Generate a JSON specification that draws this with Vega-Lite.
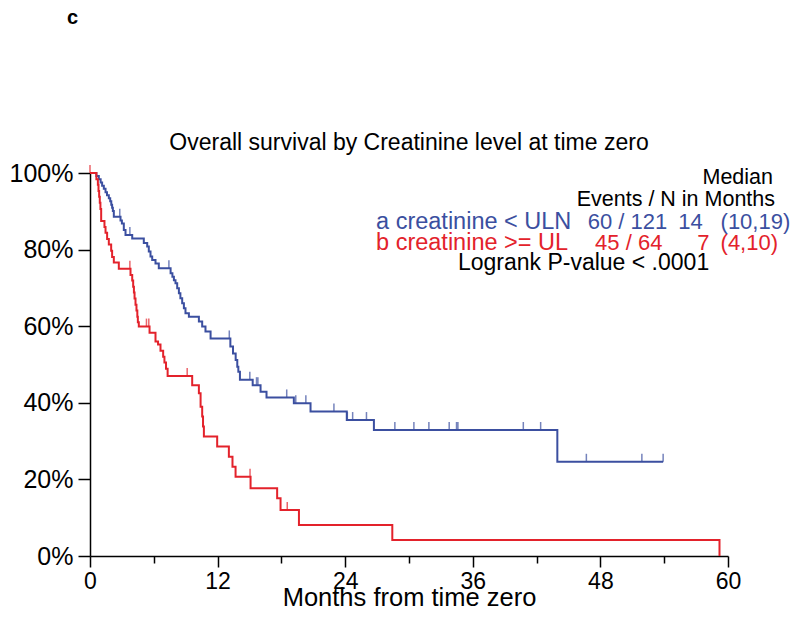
{
  "$schema": "https://vega.github.io/schema/vega-lite/v6.json",
  "width": 638,
  "height": 383,
  "autosize": {"type": "none"},
  "padding": {"left": 90, "top": 173, "right": 72, "bottom": 77},
  "background": "white",
  "config": {"font": "Liberation Sans", "view": {"stroke": null}},
  "title": {"text": "c", "anchor": "start", "frame": "group", "fontWeight": "bold", "fontSize": 20, "dx": -23, "offset": 104, "color": "black"},
  "datasets": {
    "steps": [
      {"group": "a", "t": 0, "s": 1.0}, {"group": "a", "t": 0.6, "s": 0.992}, {"group": "a", "t": 0.83, "s": 0.984},
      {"group": "a", "t": 1.0, "s": 0.975}, {"group": "a", "t": 1.14, "s": 0.967}, {"group": "a", "t": 1.3, "s": 0.959},
      {"group": "a", "t": 1.46, "s": 0.95}, {"group": "a", "t": 1.6, "s": 0.942}, {"group": "a", "t": 1.77, "s": 0.934},
      {"group": "a", "t": 1.9, "s": 0.926}, {"group": "a", "t": 2.0, "s": 0.917}, {"group": "a", "t": 2.08, "s": 0.909},
      {"group": "a", "t": 2.15, "s": 0.901}, {"group": "a", "t": 2.24, "s": 0.886}, {"group": "a", "t": 2.87, "s": 0.876},
      {"group": "a", "t": 3.0, "s": 0.868}, {"group": "a", "t": 3.18, "s": 0.851}, {"group": "a", "t": 3.34, "s": 0.838},
      {"group": "a", "t": 3.97, "s": 0.829}, {"group": "a", "t": 5.06, "s": 0.817}, {"group": "a", "t": 5.38, "s": 0.808},
      {"group": "a", "t": 5.53, "s": 0.795}, {"group": "a", "t": 5.69, "s": 0.782}, {"group": "a", "t": 5.85, "s": 0.773},
      {"group": "a", "t": 6.16, "s": 0.764}, {"group": "a", "t": 6.47, "s": 0.751}, {"group": "a", "t": 7.58, "s": 0.738},
      {"group": "a", "t": 7.75, "s": 0.729}, {"group": "a", "t": 7.89, "s": 0.72}, {"group": "a", "t": 8.04, "s": 0.712},
      {"group": "a", "t": 8.2, "s": 0.699}, {"group": "a", "t": 8.36, "s": 0.686}, {"group": "a", "t": 8.5, "s": 0.673},
      {"group": "a", "t": 8.67, "s": 0.66}, {"group": "a", "t": 8.83, "s": 0.647}, {"group": "a", "t": 8.98, "s": 0.634},
      {"group": "a", "t": 9.3, "s": 0.625}, {"group": "a", "t": 10.24, "s": 0.612}, {"group": "a", "t": 10.55, "s": 0.599},
      {"group": "a", "t": 10.86, "s": 0.586}, {"group": "a", "t": 11.34, "s": 0.568}, {"group": "a", "t": 13.2, "s": 0.547},
      {"group": "a", "t": 13.45, "s": 0.529}, {"group": "a", "t": 13.7, "s": 0.512}, {"group": "a", "t": 13.85, "s": 0.494},
      {"group": "a", "t": 13.95, "s": 0.481}, {"group": "a", "t": 14.1, "s": 0.46}, {"group": "a", "t": 15.3, "s": 0.446},
      {"group": "a", "t": 16.04, "s": 0.429}, {"group": "a", "t": 16.6, "s": 0.414}, {"group": "a", "t": 19.17, "s": 0.399},
      {"group": "a", "t": 20.74, "s": 0.377}, {"group": "a", "t": 24.15, "s": 0.355}, {"group": "a", "t": 26.7, "s": 0.329},
      {"group": "a", "t": 43.95, "s": 0.246}, {"group": "a", "t": 53.9, "s": 0.246},
      {"group": "b", "t": 0, "s": 1.0}, {"group": "b", "t": 0.6, "s": 0.984}, {"group": "b", "t": 0.74, "s": 0.969},
      {"group": "b", "t": 0.8, "s": 0.953}, {"group": "b", "t": 0.86, "s": 0.938}, {"group": "b", "t": 0.92, "s": 0.922},
      {"group": "b", "t": 0.98, "s": 0.906}, {"group": "b", "t": 1.05, "s": 0.875}, {"group": "b", "t": 1.36, "s": 0.859},
      {"group": "b", "t": 1.46, "s": 0.844}, {"group": "b", "t": 1.61, "s": 0.828}, {"group": "b", "t": 1.77, "s": 0.813},
      {"group": "b", "t": 1.99, "s": 0.797}, {"group": "b", "t": 2.08, "s": 0.781}, {"group": "b", "t": 2.24, "s": 0.766},
      {"group": "b", "t": 2.71, "s": 0.75}, {"group": "b", "t": 3.81, "s": 0.734}, {"group": "b", "t": 3.97, "s": 0.719},
      {"group": "b", "t": 4.06, "s": 0.703}, {"group": "b", "t": 4.13, "s": 0.688}, {"group": "b", "t": 4.19, "s": 0.672},
      {"group": "b", "t": 4.28, "s": 0.656}, {"group": "b", "t": 4.37, "s": 0.641}, {"group": "b", "t": 4.45, "s": 0.625},
      {"group": "b", "t": 4.5, "s": 0.61}, {"group": "b", "t": 4.59, "s": 0.599}, {"group": "b", "t": 5.6, "s": 0.583},
      {"group": "b", "t": 6.16, "s": 0.56}, {"group": "b", "t": 6.4, "s": 0.552}, {"group": "b", "t": 6.63, "s": 0.536},
      {"group": "b", "t": 6.88, "s": 0.52}, {"group": "b", "t": 7.0, "s": 0.505}, {"group": "b", "t": 7.15, "s": 0.489},
      {"group": "b", "t": 7.3, "s": 0.47}, {"group": "b", "t": 9.61, "s": 0.446}, {"group": "b", "t": 10.24, "s": 0.425},
      {"group": "b", "t": 10.4, "s": 0.39}, {"group": "b", "t": 10.55, "s": 0.364}, {"group": "b", "t": 10.63, "s": 0.338},
      {"group": "b", "t": 10.71, "s": 0.312}, {"group": "b", "t": 11.96, "s": 0.286}, {"group": "b", "t": 13.06, "s": 0.259},
      {"group": "b", "t": 13.4, "s": 0.233}, {"group": "b", "t": 13.69, "s": 0.207}, {"group": "b", "t": 15.1, "s": 0.177},
      {"group": "b", "t": 17.6, "s": 0.151}, {"group": "b", "t": 17.92, "s": 0.12}, {"group": "b", "t": 19.65, "s": 0.081},
      {"group": "b", "t": 28.43, "s": 0.042}, {"group": "b", "t": 59.2, "s": 0.0}
    ],
    "censors": [
      {"group": "a", "t": 2.8, "s": 0.886}, {"group": "a", "t": 3.75, "s": 0.838}, {"group": "a", "t": 7.42, "s": 0.751},
      {"group": "a", "t": 13.1, "s": 0.568}, {"group": "a", "t": 15.03, "s": 0.46}, {"group": "a", "t": 15.66, "s": 0.446},
      {"group": "a", "t": 15.79, "s": 0.446}, {"group": "a", "t": 18.5, "s": 0.414}, {"group": "a", "t": 19.35, "s": 0.399},
      {"group": "a", "t": 20.3, "s": 0.399}, {"group": "a", "t": 22.94, "s": 0.377}, {"group": "a", "t": 24.2, "s": 0.355},
      {"group": "a", "t": 24.7, "s": 0.355}, {"group": "a", "t": 26.0, "s": 0.355}, {"group": "a", "t": 28.67, "s": 0.329},
      {"group": "a", "t": 30.46, "s": 0.329}, {"group": "a", "t": 31.87, "s": 0.329}, {"group": "a", "t": 33.78, "s": 0.329},
      {"group": "a", "t": 34.47, "s": 0.329}, {"group": "a", "t": 34.6, "s": 0.329}, {"group": "a", "t": 40.75, "s": 0.329},
      {"group": "a", "t": 42.38, "s": 0.329}, {"group": "a", "t": 46.68, "s": 0.246}, {"group": "a", "t": 51.9, "s": 0.246},
      {"group": "a", "t": 53.9, "s": 0.246},
      {"group": "b", "t": 0.0, "s": 1.0}, {"group": "b", "t": 3.75, "s": 0.75}, {"group": "b", "t": 5.31, "s": 0.599},
      {"group": "b", "t": 5.53, "s": 0.599}, {"group": "b", "t": 9.14, "s": 0.47}, {"group": "b", "t": 15.05, "s": 0.207},
      {"group": "b", "t": 18.55, "s": 0.12}
    ]
  },
  "layer": [
    {
      "data": {"name": "steps"},
      "mark": {"type": "line", "interpolate": "step-after", "strokeWidth": 2},
      "encoding": {
        "x": {
          "field": "t", "type": "quantitative",
          "scale": {"domain": [0, 60], "nice": false, "zero": false},
          "axis": {
            "values": [0, 6, 12, 18, 24, 30, 36, 42, 48, 54, 60],
            "labelExpr": "datum.value % 12 === 0 ? datum.value : ''",
            "tickSize": {"condition": {"test": "datum.value % 12 === 0", "value": 11}, "value": 7},
            "grid": false, "domainColor": "black", "domainWidth": 1.5, "tickColor": "black", "tickWidth": 1.5,
            "labelFontSize": 23, "labelColor": "black", "labelPadding": 3, "labelFlush": false, "labelOverlap": false,
            "title": "Months from time zero", "titleFontSize": 25.5, "titleFontWeight": "normal", "titleColor": "black", "titlePadding": -8
          }
        },
        "y": {
          "field": "s", "type": "quantitative",
          "scale": {"domain": [0, 1], "nice": false},
          "axis": {
            "values": [0, 0.1, 0.2, 0.3, 0.4, 0.5, 0.6, 0.7, 0.8, 0.9, 1.0],
            "labelExpr": "round(datum.value * 10) % 2 === 0 ? format(datum.value, '.0%') : ''",
            "tickSize": {"condition": {"test": "round(datum.value * 10) % 2 === 0", "value": 12}, "value": 7},
            "grid": false, "domainColor": "black", "domainWidth": 1.5, "tickColor": "black", "tickWidth": 1.5,
            "labelFontSize": 25, "labelColor": "black", "labelPadding": 5, "labelFlush": false, "labelOverlap": false,
            "title": null
          }
        },
        "color": {"field": "group", "type": "nominal", "scale": {"domain": ["a", "b"], "range": ["#3b4fa0", "#e3222b"]}, "legend": null}
      }
    },
    {
      "data": {"name": "censors"},
      "mark": {"type": "tick", "orient": "vertical", "size": 8, "thickness": 1.5, "yOffset": -4},
      "encoding": {
        "x": {"field": "t", "type": "quantitative"},
        "y": {"field": "s", "type": "quantitative"},
        "color": {"field": "group", "type": "nominal", "legend": null}
      }
    },
    {
      "data": {"values": [{"label": "Overall survival by Creatinine level at time zero"}]},
      "mark": {"type": "text", "align": "center", "baseline": "middle", "fontSize": 23, "color": "black"},
      "encoding": {"x": {"datum": 30}, "y": {"datum": 1.078}, "text": {"field": "label"}}
    },
    {
      "data": {"values": [{"label": "Median"}]},
      "mark": {"type": "text", "align": "left", "baseline": "middle", "fontSize": 21.5, "color": "black"},
      "encoding": {"x": {"datum": 57.6}, "y": {"datum": 0.987}, "text": {"field": "label"}}
    },
    {
      "data": {"values": [{"label": "Events / N in Months"}]},
      "mark": {"type": "text", "align": "left", "baseline": "middle", "fontSize": 21.5, "color": "black"},
      "encoding": {"x": {"datum": 45.77}, "y": {"datum": 0.929}, "text": {"field": "label"}}
    },
    {
      "data": {"values": [{"label": "a creatinine < ULN"}]},
      "mark": {"type": "text", "align": "left", "baseline": "middle", "fontSize": 23.5, "color": "#3b4fa0"},
      "encoding": {"x": {"datum": 26.9}, "y": {"datum": 0.873}, "text": {"field": "label"}}
    },
    {
      "data": {"values": [{"label": "60 / 121"}]},
      "mark": {"type": "text", "align": "left", "baseline": "middle", "fontSize": 22, "color": "#3b4fa0"},
      "encoding": {"x": {"datum": 46.8}, "y": {"datum": 0.873}, "text": {"field": "label"}}
    },
    {
      "data": {"values": [{"label": "14"}]},
      "mark": {"type": "text", "align": "left", "baseline": "middle", "fontSize": 22, "color": "#3b4fa0"},
      "encoding": {"x": {"datum": 55.33}, "y": {"datum": 0.873}, "text": {"field": "label"}}
    },
    {
      "data": {"values": [{"label": "(10,19)"}]},
      "mark": {"type": "text", "align": "left", "baseline": "middle", "fontSize": 22, "color": "#3b4fa0"},
      "encoding": {"x": {"datum": 59.3}, "y": {"datum": 0.873}, "text": {"field": "label"}}
    },
    {
      "data": {"values": [{"label": "b creatinine >= UL"}]},
      "mark": {"type": "text", "align": "left", "baseline": "middle", "fontSize": 23.5, "color": "#e3222b"},
      "encoding": {"x": {"datum": 26.9}, "y": {"datum": 0.818}, "text": {"field": "label"}}
    },
    {
      "data": {"values": [{"label": "45 / 64"}]},
      "mark": {"type": "text", "align": "left", "baseline": "middle", "fontSize": 22, "color": "#e3222b"},
      "encoding": {"x": {"datum": 47.5}, "y": {"datum": 0.818}, "text": {"field": "label"}}
    },
    {
      "data": {"values": [{"label": "7"}]},
      "mark": {"type": "text", "align": "left", "baseline": "middle", "fontSize": 22, "color": "#e3222b"},
      "encoding": {"x": {"datum": 57.1}, "y": {"datum": 0.818}, "text": {"field": "label"}}
    },
    {
      "data": {"values": [{"label": "(4,10)"}]},
      "mark": {"type": "text", "align": "left", "baseline": "middle", "fontSize": 22, "color": "#e3222b"},
      "encoding": {"x": {"datum": 59.3}, "y": {"datum": 0.818}, "text": {"field": "label"}}
    },
    {
      "data": {"values": [{"label": "Logrank P-value < .0001"}]},
      "mark": {"type": "text", "align": "left", "baseline": "middle", "fontSize": 23, "color": "black"},
      "encoding": {"x": {"datum": 34.6}, "y": {"datum": 0.765}, "text": {"field": "label"}}
    }
  ]
}
